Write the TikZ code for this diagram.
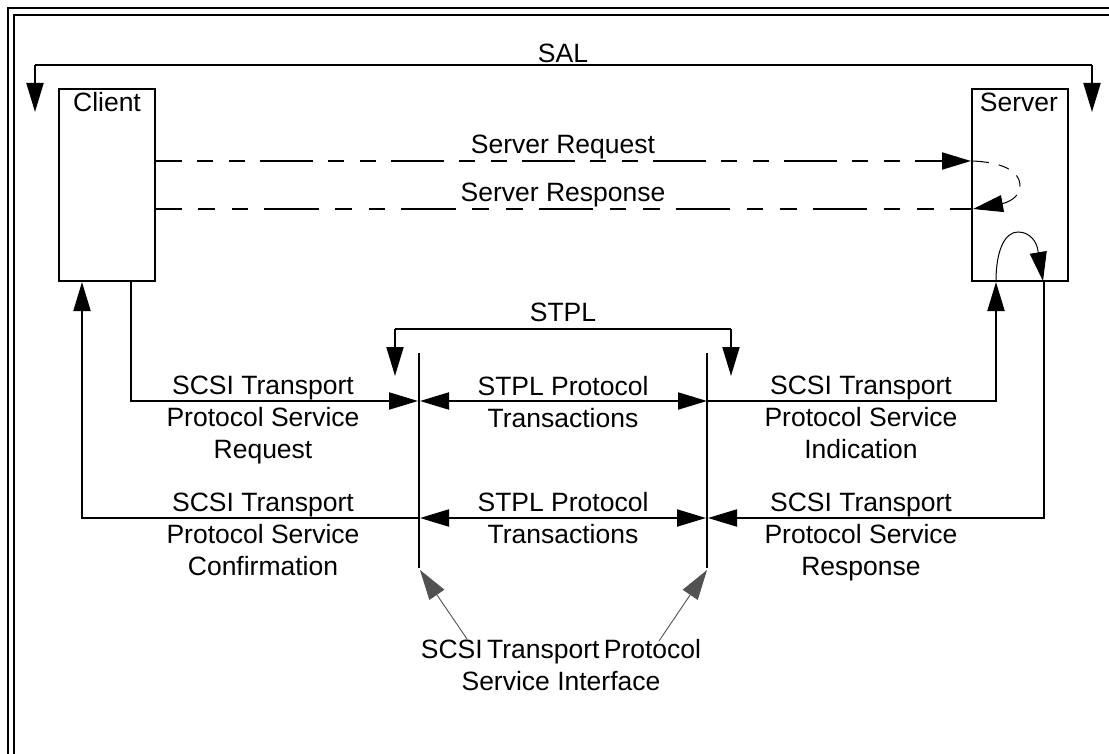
\documentclass[tikz,border=0pt]{standalone}
\usepackage{fontspec}
\setmainfont{Liberation Sans}
\usetikzlibrary{arrows.meta}
\tikzset{
  conn/.style={draw=black,line width=2pt,line join=miter},
  arr/.style={conn,-{Triangle[length=29pt,width=17pt,sep=0pt]}},
  dbl/.style={conn,{Triangle[length=29pt,width=17pt,sep=0pt]}-{Triangle[length=29pt,width=17pt,sep=0pt]}},
  thin conn/.style={draw=black,line width=1pt,-{Triangle[length=29pt,width=17pt,sep=0pt]}},
  grey conn/.style={draw=black!68,line width=0.9pt,-{Triangle[length=30pt,width=18pt,sep=0pt,fill=black!68]}},
  boxn/.style={draw=black,line width=2pt,minimum width=96pt,minimum height=192pt,inner sep=0pt,outer sep=0pt},
  frameline/.style={draw=black,line width=2.4pt},
  lbl/.style={inner sep=0pt,outer sep=0pt,anchor=base,font=\fontsize{26.5}{32}\selectfont,align=center},
  dash a/.style={dash pattern=on 53pt off 15pt on 16pt off 16pt on 16pt off 15pt,dash phase=26pt},
  dash b/.style={dash pattern=on 54.5pt off 16.5pt on 16.7pt off 16.7pt on 16.7pt off 16pt,dash phase=27.8pt},
  dash c/.style={dash pattern=on 17pt off 10pt on 11pt off 10pt on 12pt off 9pt on 60pt off 0pt},
}
\begin{document}
\begin{tikzpicture}[x=1pt,y=-1pt]
\useasboundingbox (0,0) rectangle (1109,754);
% frame
\coordinate (fa) at (8,754); \coordinate (fb) at (8,8); \coordinate (fc) at (1109,8);
\coordinate (fd) at (14,754); \coordinate (fe) at (14,15); \coordinate (ff) at (1109,15);
\draw[frameline] (fa) -- (fb) -- (fc);
\draw[frameline] (fd) -- (fe) -- (ff);
% boxes
\node[boxn] (client) at (107,185) {};
\node[boxn] (server) at (1020,185) {};
\node[lbl] (clientt) at (107,112) {Client};
\node[lbl] (servert) at (1019,112) {Server};
% SAL
\node[lbl] (sal) at (563,63) {SAL};
\coordinate (salL) at (35,112); \coordinate (salLt) at (35,65);
\coordinate (salR) at (1092,112); \coordinate (salRt) at (1092,65);
\draw[arr] (salLt) -- (salL);
\draw[arr] (salRt) -- (salR);
\draw[conn] (salLt) -- (salRt);
% service request / response
\node[lbl] (sreq) at (563,154) {Server Request};
\node[lbl] (sres) at (563,202) {Server Response};
\coordinate (reqA) at (155,161); \coordinate (reqB) at (971,161);
\coordinate (resA) at (155,209); \coordinate (resB) at (971,209);
\draw[conn,dash a,-{Triangle[length=29pt,width=17pt,sep=0pt]}] (reqA) -- (reqB);
\draw[conn,dash b] (resA) -- (resB);
\coordinate (loopA) at (972,161); \coordinate (loopB) at (973,209);
\draw[draw=black,line width=1pt,dash c,-{Triangle[length=30pt,width=17pt,sep=0pt]}]
  (loopA) .. controls (1000,162) and (1020,170) .. (1020,186)
  .. controls (1020,195) and (1012,201) .. (1003,203.5) -- (loopB);
% internal solid loop
\coordinate (inA) at (996,281); \coordinate (inB) at (1043,281);
\draw[thin conn] (inA) .. controls (996,250) and (1005,232) .. (1018,232)
  .. controls (1030,232) and (1037,242) .. (1038,251) -- (inB);
% verticals
\coordinate (vLa) at (419,353); \coordinate (vLb) at (419,568);
\coordinate (vRa) at (707,353); \coordinate (vRb) at (707,568);
\draw[conn] (vLa) -- (vLb);
\draw[conn] (vRa) -- (vRb);
% STPL
\node[lbl] (stpl) at (563,321) {STPL};
\coordinate (stL) at (395,329); \coordinate (stR) at (731,329);
\coordinate (stLe) at (395,376); \coordinate (stRe) at (731,376);
\draw[arr] (stL) -- (stLe);
\draw[arr] (stR) -- (stRe);
\draw[conn] (stL) -- (stR);
% row 1
\coordinate (r1L) at (418,401); \coordinate (r1M) at (420,401); \coordinate (r1R) at (707,401);
\coordinate (cOut) at (131,281); \coordinate (cOutB) at (131,401);
\coordinate (sIn) at (996,282); \coordinate (sInB) at (996,401);
\draw[arr] (cOut) -- (cOutB) -- (r1L);
\draw[dbl] (r1M) -- (r1R);
\draw[arr] (r1R) -- (sInB) -- (sIn);
% row 2
\coordinate (r2L) at (420,518); \coordinate (r2R) at (706,518); \coordinate (r2S) at (708,518);
\coordinate (cIn) at (82,282); \coordinate (cInB) at (82,518);
\coordinate (sOut) at (1044,281); \coordinate (sOutB) at (1044,518);
\draw[arr] (r2L) -- (cInB) -- (cIn);
\draw[dbl] (r2L) -- (r2R);
\draw[arr] (sOut) -- (sOutB) -- (r2S);
% labels
\node[lbl] (l1) at (263,458) {SCSI Transport\\Protocol Service\\Request};
\node[lbl] (m1) at (563,427) {STPL Protocol\\Transactions};
\node[lbl] (r1) at (861,458) {SCSI Transport\\Protocol Service\\Indication};
\node[lbl] (l2) at (263,575) {SCSI Transport\\Protocol Service\\Confirmation};
\node[lbl] (m2) at (563,543) {STPL Protocol\\Transactions};
\node[lbl] (r2) at (861,575) {SCSI Transport\\Protocol Service\\Response};
\node[lbl] (ifc) at (561,690) {SCSI\hspace{-3pt} Transport\hspace{-3pt} Protocol\\Service Interface};
% grey pointers
\coordinate (gLs) at (467,639); \coordinate (gLe) at (420,570);
\coordinate (gRs) at (659,641); \coordinate (gRe) at (707,570);
\draw[grey conn] (gLs) -- (gLe);
\draw[grey conn] (gRs) -- (gRe);
\end{tikzpicture}
\end{document}
